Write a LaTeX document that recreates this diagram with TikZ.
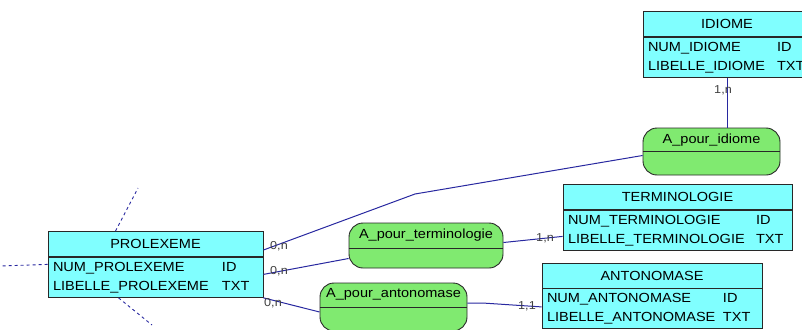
\documentclass[tikz,border=0pt]{standalone}
\usepackage{fontspec}
\newfontfamily\merise{Liberation Sans}[FakeStretch=1.1]
\usetikzlibrary{positioning,calc}

\definecolor{cyanE}{RGB}{128,255,255}
\definecolor{vertA}{RGB}{128,234,112}
\definecolor{trait}{RGB}{40,40,160}
\definecolor{bord}{RGB}{40,40,40}

\tikzset{
	entete/.style={draw=bord, line width=0.9pt, fill=cyanE, minimum height=25pt, inner sep=0pt,
		font=\merise\fontsize{13.2}{19}\selectfont},
	corps/.style={draw=bord, line width=0.9pt, fill=cyanE, minimum height=40pt, inner xsep=5pt, inner ysep=0pt,
		align=left, font=\merise\fontsize{13.2}{19}\selectfont},
	assoc/.style={draw=bord, line width=0.9pt, fill=vertA, rounded corners=14pt, minimum height=47pt, inner sep=0pt},
	nomassoc/.style={font=\merise\fontsize{13.2}{19}\selectfont, inner sep=0pt},
	lien/.style={draw=trait, line width=1pt},
	pointille/.style={draw=trait, line width=0.9pt, dash pattern=on 3pt off 3pt},
	card/.style={font=\merise\fontsize{11.5}{13}\selectfont, text=black!75, inner sep=0pt}
}

\begin{document}
\begin{tikzpicture}[x=1pt,y=-1pt]
	\useasboundingbox (0,0) rectangle (802,329);
	\clip (0,0) rectangle (802,329);

	% entites
	\node[entete, minimum width=168pt] (idiome) at (727,24) {IDIOME};
	\node[corps, text width=158pt, below=0pt of idiome] (idiome-b)
		{\makebox[129pt][l]{NUM\_IDIOME}ID\\\makebox[129pt][l]{LIBELLE\_IDIOME}TXT};

	\node[entete, minimum width=229pt] (terminologie) at (677.5,197) {TERMINOLOGIE};
	\node[corps, text width=219pt, below=0pt of terminologie] (terminologie-b)
		{\makebox[188pt][l]{NUM\_TERMINOLOGIE}ID\\\makebox[188pt][l]{LIBELLE\_TERMINOLOGIE}TXT};

	\node[entete, minimum width=220pt] (antonomase) at (652,275.5) {ANTONOMASE};
	\node[corps, text width=210pt, below=0pt of antonomase] (antonomase-b)
		{\makebox[176pt][l]{NUM\_ANTONOMASE}ID\\\makebox[176pt][l]{LIBELLE\_ANTONOMASE}TXT};

	\node[entete, minimum width=215pt] (prolexeme) at (155.5,244) {PROLEXEME};
	\node[corps, text width=205pt, below=0pt of prolexeme] (prolexeme-b)
		{\makebox[169pt][l]{NUM\_PROLEXEME}ID\\\makebox[169pt][l]{LIBELLE\_PROLEXEME}TXT};

	% associations
	\node[assoc, minimum width=137pt] (aidiome) at (711.5,151.5) {};
	\draw[bord, line width=0.9pt] (aidiome.west) -- (aidiome.east);
	\node[nomassoc, below=6pt of aidiome.north] (aidiome-t) {A\_pour\_idiome};

	\node[assoc, minimum width=154pt, minimum height=45pt] (aterm) at (426,245.5) {};
	\draw[bord, line width=0.9pt] ([yshift=-2.5pt]aterm.west) -- ([yshift=-2.5pt]aterm.east);
	\node[nomassoc, below=6pt of aterm.north] (aterm-t) {A\_pour\_terminologie};

	\node[assoc, minimum width=147pt, minimum height=48pt] (aanto) at (393.5,307) {};
	\draw[bord, line width=0.9pt] (aanto.west) -- (aanto.east);
	\node[nomassoc, below=6pt of aanto.north] (aanto-t) {A\_pour\_antonomase};

	% liens
	\coordinate (coude) at (415,194);
	\draw[lien] (idiome-b.south) -- (idiome-b.south |- aidiome.north);
	\draw[lien] ([yshift=-6pt]prolexeme.east) -- (coude) -- ([yshift=-4pt]aidiome.west);
	\draw[lien] ([yshift=3pt]prolexeme-b.east) -- ([yshift=-13pt]aterm.west);
	\draw[lien] ([yshift=3pt]aterm.east) -- ([yshift=-6pt]terminologie-b.west);
	\draw[lien] (prolexeme-b.south east) -- ([yshift=-5pt]aanto.west);
	\draw[lien] ([yshift=4pt]aanto.east) -- ++(15,0) -- ([yshift=2pt]antonomase-b.west);

	% liens vers le reste du modele
	\coordinate (haut) at (138,188);
	\coordinate (gauche) at (0,266);
	\coordinate (bas) at (152,325);
	\draw[pointille] ([xshift=-40pt]prolexeme.north) -- (haut);
	\draw[pointille] ([yshift=13pt]prolexeme-b.west) -- (gauche);
	\draw[pointille] ([xshift=-37pt]prolexeme-b.south) -- (bas);

	% cardinalites
	\node[card] (c-idiome) at (723,90) {1,n};
	\node[card] (c-prol1) at (279,246) {0,n};
	\node[card] (c-prol2) at (279,271) {0,n};
	\node[card] (c-prol3) at (273,303) {0,n};
	\node[card] (c-term) at (545,238) {1,n};
	\node[card] (c-anto) at (527,306) {1,1};

\end{tikzpicture}
\end{document}
